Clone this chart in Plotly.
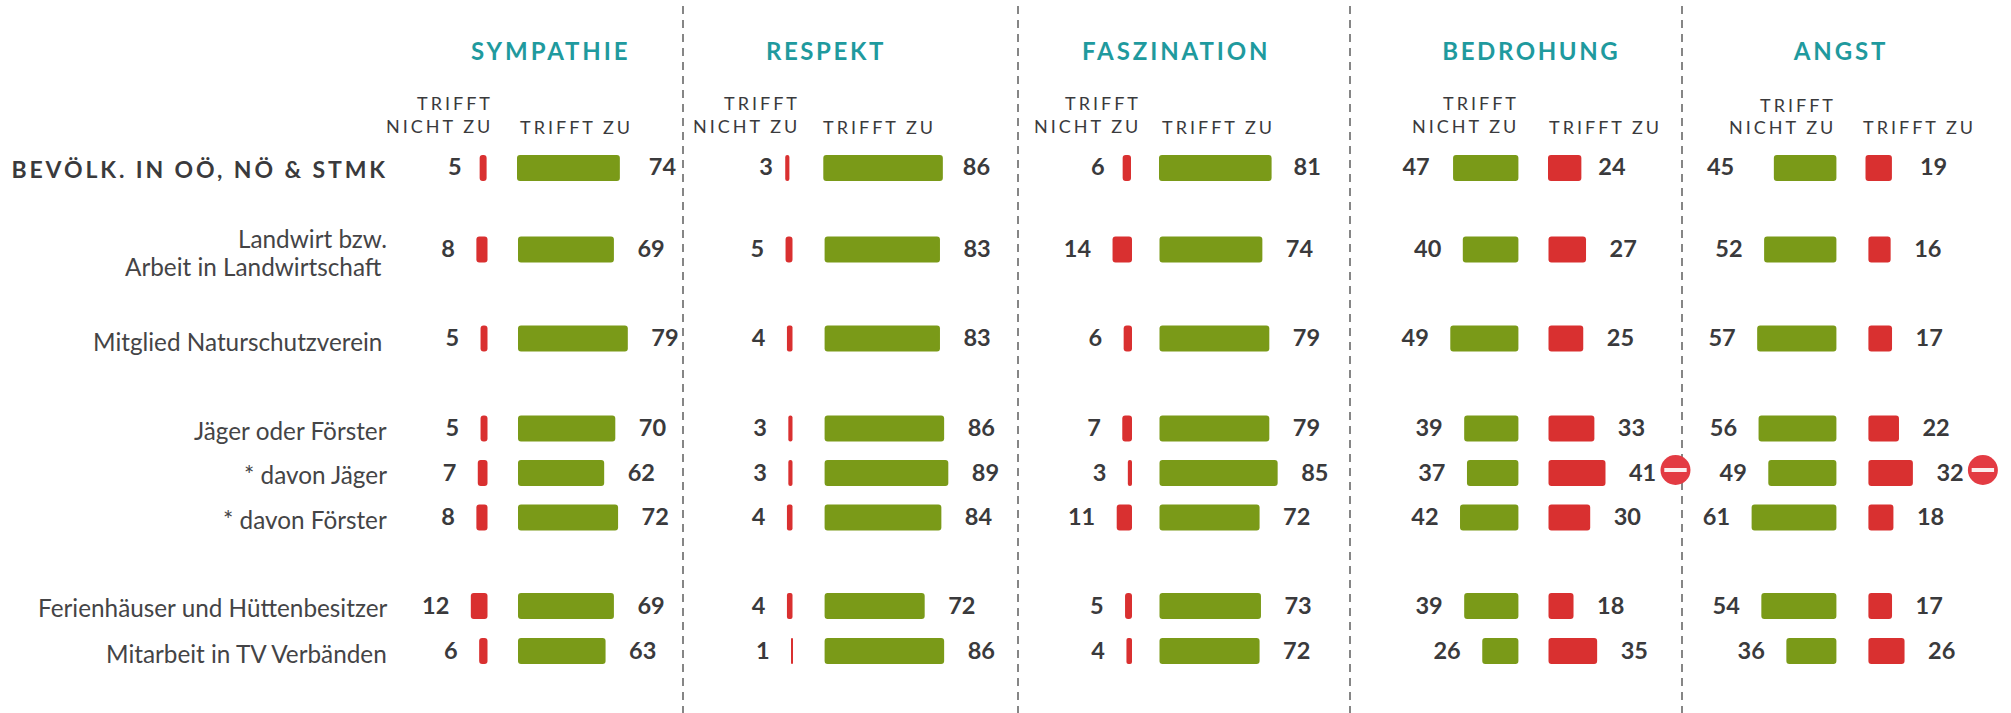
import plotly.graph_objects as go

# ---------- data ----------
row_labels = ["BEVÖLK. IN OÖ, NÖ & STMK", "Landwirt bzw.", "Arbeit in Landwirtschaft",
              "Mitglied Naturschutzverein", "Jäger oder Förster", "* davon Jäger",
              "* davon Förster", "Ferienhäuser und Hüttenbesitzer", "Mitarbeit in TV Verbänden"]
panel_titles = ["SYMPATHIE", "RESPEKT", "FASZINATION", "BEDROHUNG", "ANGST"]

sympathie_nicht = [5, 8, 5, 5, 7, 8, 12, 6]
sympathie_zu = [74, 69, 79, 70, 62, 72, 69, 63]
respekt_nicht = [3, 5, 4, 3, 3, 4, 4, 1]
respekt_zu = [86, 83, 83, 86, 89, 84, 72, 86]
faszination_nicht = [6, 14, 6, 7, 3, 11, 5, 4]
faszination_zu = [81, 74, 79, 79, 85, 72, 73, 72]
bedrohung_nicht = [47, 40, 49, 39, 37, 42, 39, 26]
bedrohung_zu = [24, 27, 25, 33, 41, 30, 18, 35]
angst_nicht = [45, 52, 57, 56, 49, 61, 54, 36]
angst_zu = [19, 16, 17, 22, 32, 18, 17, 26]

# ---------- layout constants (pixels on the 2011x713 canvas) ----------
W, H = 2011, 713
PX = 1.39          # pixels per percentage point
ROW_Y = [168, 249.5, 338.5, 428.5, 473, 517.5, 606, 651]
NUM_Y = [169.5, 251, 340.5, 430.5, 475, 519.5, 608, 653]
GREEN, RED = "#7a9a18", "#d93030"
INK = "#3a3a3c"
TEAL = "#1f9a9e"
GAP = 22.5

panels = [
    dict(nicht=sympathie_nicht, zu=sympathie_zu, colors=(RED, GREEN), left=(487.5, 486.6), right=(518, 517),
         gap1=(19, 28), title_x=550, sub_r=495.3, sub_l=518, sub_y=(103, 125.7, 126.7)),
    dict(nicht=respekt_nicht, zu=respekt_zu, colors=(RED, GREEN), left=(792.5, 789.4), right=(824.6, 823.3),
         gap1=(13.4, 19), title_x=826.5, sub_r=802.3, sub_l=821.3, sub_y=(103, 125.7, 126.7)),
    dict(nicht=faszination_nicht, zu=faszination_zu, colors=(RED, GREEN), left=(1132, 1131), right=(1159.5, 1159),
         gap1=(19, 21), title_x=1176, sub_r=1142.8, sub_l=1159.5, sub_y=(103, 125.7, 126.7)),
    dict(nicht=bedrohung_nicht, zu=bedrohung_zu, colors=(GREEN, RED), left=(1518.4, 1518.4), right=(1548.5, 1548),
         gap1=(24.4, 16), title_x=1531.5, sub_r=1521.3, sub_l=1547, sub_y=(103, 125.7, 126.7)),
    dict(nicht=angst_nicht, zu=angst_zu, colors=(GREEN, RED), left=(1836.4, 1836.4), right=(1868.4, 1865.5),
         gap1=(40.6, 27), title_x=1841, sub_r=1838.3, sub_l=1861, sub_y=(105.3, 127.3, 127.3)),
]
DIVIDERS = [683, 1018, 1350, 1682]
BADGE_ROW = 4
BADGE_PANELS = [3, 4]
BADGE_OFFSET = 70


def u(px):
    return px / PX


fig = go.Figure()
num_font = dict(family="Lato", size=23.5, color=INK, weight=700)
for p in panels:
    n = len(p["nicht"])
    la = [p["left"][1 if i == 0 else 0] for i in range(n)]
    ra = [p["right"][1 if i == 0 else 0] for i in range(n)]
    # bars growing to the left of the gutter
    fig.add_trace(go.Bar(orientation="h", y=ROW_Y, x=p["nicht"],
                         base=[u(a) - v for a, v in zip(la, p["nicht"])],
                         width=26, marker=dict(color=p["colors"][0], cornerradius=3.5, line_width=0),
                         hoverinfo="skip"))
    # bars growing to the right of the gutter
    fig.add_trace(go.Bar(orientation="h", y=ROW_Y, x=p["zu"],
                         base=[u(a) for a in ra],
                         width=26, marker=dict(color=p["colors"][1], cornerradius=3.5, line_width=0),
                         hoverinfo="skip"))
    lg = [p["gap1"][0] if i == 0 else GAP for i in range(n)]
    rg = [p["gap1"][1] if i == 0 else GAP for i in range(n)]
    fig.add_trace(go.Scatter(mode="text", y=NUM_Y,
                             x=[u(a - g + 1) - v for a, g, v in zip(la, lg, p["nicht"])],
                             text=[str(v) for v in p["nicht"]], textposition="middle left",
                             textfont=num_font, hoverinfo="skip"))
    fig.add_trace(go.Scatter(mode="text", y=NUM_Y,
                             x=[u(a + g + 1) + v for a, g, v in zip(ra, rg, p["zu"])],
                             text=[str(v) for v in p["zu"]], textposition="middle right",
                             textfont=num_font, hoverinfo="skip"))

# "minus" badges
bx = [u(panels[i]["right"][0] + BADGE_OFFSET) + panels[i]["zu"][BADGE_ROW] for i in BADGE_PANELS]
by = [ROW_Y[BADGE_ROW] - 3 for _ in BADGE_PANELS]
fig.add_trace(go.Scatter(mode="markers", x=bx, y=by, hoverinfo="skip",
                         marker=dict(symbol="circle", size=30, color="#e33b43", line_width=0)))
fig.add_trace(go.Scatter(mode="markers", x=bx, y=by, hoverinfo="skip",
                         marker=dict(symbol="line-ew", size=16, color="white",
                                     line=dict(width=4, color="#fbeeee"))))

ann = []


def note(text, xpx, ypx, anchor, size, color, weight=400):
    ann.append(dict(text=text, xref="x", yref="y", x=u(xpx), y=ypx, xanchor=anchor, yanchor="middle",
                    align=anchor, showarrow=False,
                    font=dict(family="Lato", size=size, color=color, weight=weight)))


note(row_labels[0], 390, 169, "right", 23, INK, 700)
label_pos = [(389, 238), (384, 266.5), (384, 341.5), (389, 430.5), (389, 474.5), (389, 519), (389, 607.5), (389, 653)]
for t, (x, y) in zip(row_labels[1:], label_pos):
    note(t, x, y, "right", 24.3, "#444446")

for p, title in zip(panels, panel_titles):
    note(title, p["title_x"], 50, "center", 24, TEAL, 700)
    note("TRIFFT", p["sub_r"], p["sub_y"][0], "right", 18, INK)
    note("NICHT ZU", p["sub_r"], p["sub_y"][1], "right", 18, INK)
    note("TRIFFT ZU", p["sub_l"], p["sub_y"][2], "left", 18, INK)

shapes = [dict(type="line", xref="x", yref="paper", x0=u(d), x1=u(d), y0=1 - 6 / H, y1=0,
               line=dict(color="#868686", width=2, dash="8px,6px"), layer="below") for d in DIVIDERS]

fig.update_layout(width=W, height=H, margin=dict(l=0, r=0, t=0, b=0), showlegend=False,
                  barmode="overlay", paper_bgcolor="white", plot_bgcolor="white",
                  xaxis=dict(range=[0, u(W)], visible=False, fixedrange=True),
                  yaxis=dict(range=[H, 0], visible=False, fixedrange=True),
                  annotations=ann, shapes=shapes)

post = """
document.body.style.margin = '0';
var spacing = {'SYMPATHIE':2.9,'RESPEKT':2.6,'FASZINATION':2.9,'BEDROHUNG':2.6,'ANGST':2.9,
  'TRIFFT':3,'NICHT ZU':3,'TRIFFT ZU':3,'BEVÖLK. IN OÖ, NÖ & STMK':2.9};
document.querySelectorAll('.annotation-text').forEach(function(t){
  var s = spacing[t.textContent];
  if (s) { t.style.letterSpacing = s + 'px'; }
});
"""
fig.write_html("out.html", post_script=post, config=dict(displayModeBar=False))
